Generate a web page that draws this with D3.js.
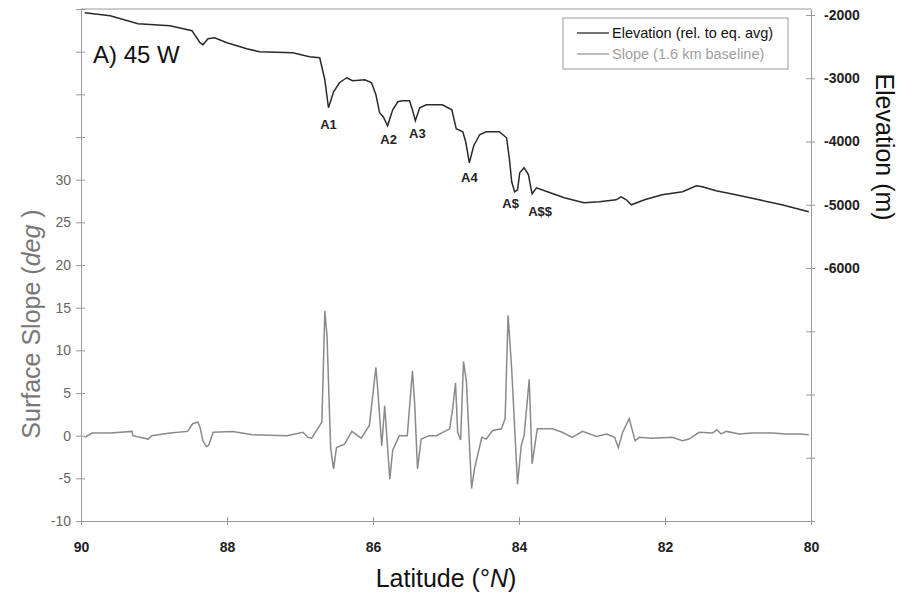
<!DOCTYPE html>
<html>
  <head>
    <meta charset="UTF-8">
    <title>45 W profile</title>
    <style type="text/css">
      body { margin: 0; background-color: #fff; }
      svg { font-family: "Liberation Sans", Arial, sans-serif; }
      .axis path, .axis line { stroke: #9a9a9a; }
      .axis text { font-size: 14px; }
      .left text { fill: #666; }
      .right text, .bottom text { fill: #222; font-weight: bold; }
      .dipLabel { font-size: 13px; font-weight: bold; fill: #222; text-anchor: middle; }
    </style>
    <script src="https://cdn.jsdelivr.net/npm/d3@7"></script>
  </head>
  <body>
    <div id="chart"></div>
    <script type="text/javascript">
      var width = 910, height = 593;
      var plotLeft = 81, plotRight = 811, plotTop = 9, plotBottom = 521;

      // elevation profile (latitude deg N, metres)
      var elevLat = [89.95, 89.60, 89.22, 88.78, 88.48, 88.37, 88.33, 88.26, 88.17, 88.00, 87.73, 87.55, 87.10, 86.87, 86.73,
        86.66, 86.61, 86.54, 86.46, 86.36, 86.28, 86.11, 86.02, 85.96, 85.91, 85.86, 85.80, 85.73, 85.66, 85.60, 85.50,
        85.46, 85.42, 85.36, 85.27, 85.05, 84.92, 84.86, 84.77, 84.73, 84.68, 84.62, 84.54, 84.45, 84.27, 84.17, 84.13,
        84.10, 84.06, 84.02, 83.99, 83.93, 83.87, 83.84, 83.82, 83.76, 83.61, 83.38, 83.11, 82.90, 82.67, 82.60, 82.53,
        82.46, 82.28, 82.04, 81.76, 81.57, 81.49, 81.30, 81.03, 80.71, 80.40, 80.03];
      var elevVal = [-1963, -2011, -2137, -2169, -2248, -2438, -2470, -2375, -2359, -2438, -2533, -2581, -2597, -2660, -2676,
        -3023, -3466, -3213, -3071, -2992, -3039, -3023, -3071, -3261, -3545, -3608, -3751, -3498, -3371, -3356, -3356,
        -3498, -3672, -3466, -3419, -3419, -3498, -3799, -3846, -4004, -4336, -4067, -3893, -3846, -3846, -3941, -4289,
        -4637, -4795, -4763, -4495, -4416, -4526, -4716, -4827, -4732, -4795, -4890, -4969, -4953, -4922, -4874, -4922,
        -5001, -4922, -4843, -4795, -4700, -4716, -4779, -4843, -4922, -5001, -5112];

      // surface slope (latitude deg N, degrees)
      var slopeLat = [89.95, 89.85, 89.60, 89.30, 89.29, 89.08, 89.03, 88.78, 88.54, 88.47, 88.40, 88.37, 88.33, 88.28, 88.25,
        88.19, 87.92, 87.65, 87.18, 86.96, 86.89, 86.84, 86.76, 86.70, 86.66, 86.63, 86.58, 86.54, 86.50, 86.39, 86.29,
        86.21, 86.16, 86.05, 85.96, 85.94, 85.88, 85.84, 85.77, 85.73, 85.64, 85.53, 85.46, 85.43, 85.39, 85.34, 85.23,
        85.13, 84.95, 84.91, 84.87, 84.84, 84.80, 84.76, 84.72, 84.65, 84.61, 84.51, 84.45, 84.36, 84.24, 84.19, 84.15,
        84.10, 84.02, 83.97, 83.93, 83.86, 83.82, 83.75, 83.54, 83.41, 83.27, 83.13, 82.94, 82.80, 82.69, 82.64, 82.58,
        82.49, 82.41, 82.35, 82.18, 81.90, 81.76, 81.67, 81.53, 81.35, 81.29, 81.23, 81.16, 80.98, 80.81, 80.53, 80.34,
        80.16, 80.03];
      var slopeVal = [-0.2, 0.3, 0.3, 0.5, 0.0, -0.4, 0.0, 0.3, 0.5, 1.4, 1.6, 1.0, -0.6, -1.3, -1.1,
        0.4, 0.5, 0.1, 0.0, 0.4, -0.2, -0.3, 0.8, 1.6, 14.6, 11.7, -1.5, -3.9, -1.4, -1.0, 0.5,
        0.0, -0.3, 1.2, 8.0, 6.0, -1.2, 3.5, -5.1, -1.7, 0.0, 0.0, 7.6, 3.9, -3.9, -0.4, 0.0,
        0.0, 0.8, 3.1, 6.2, 0.4, -0.5, 8.7, 6.3, -6.2, -3.9, -0.2, -0.4, 0.6, 0.8, 2.0, 14.1,
        7.8, -5.7, -1.2, 0.0, 6.6, -3.3, 0.8, 0.8, 0.4, -0.2, 0.5, -0.1, 0.2, -0.2, -1.4, 0.4,
        2.0, -0.6, -0.2, -0.3, -0.2, -0.6, -0.4, 0.4, 0.3, 0.7, 0.2, 0.5, 0.2, 0.3, 0.3, 0.2,
        0.2, 0.1];

      // labelled depressions
      var dipNames = ["A1", "A2", "A3", "A4", "A$", "A$$"];
      var dipLat = [86.61, 85.80, 85.42, 84.68, 84.06, 83.82];
      var dipElev = [-3466, -3751, -3672, -4336, -4795, -4827];

      var latTicks = [90, 88, 86, 84, 82, 80];
      var slopeTicks = [-10, -5, 0, 5, 10, 15, 20, 25, 30, 35, 40, 45, 50];
      var elevTicks = [-2000, -3000, -4000, -5000, -6000, -7000, -8000, -9000, -10000];
      var legendNames = ["Elevation (rel. to eq. avg)", "Slope (1.6 km baseline)"];

      var svg = d3.select("#chart").append("svg")
        .attr("width", width).attr("height", height);

      var xScale = d3.scaleLinear().domain([90, 80]).range([plotLeft, plotRight]);
      var ySlope = d3.scaleLinear().domain([-10, 50]).range([plotBottom, plotTop]);
      var yElev = d3.scaleLinear().domain([-10000, -1905]).range([plotBottom, plotTop]);

      // frame top line
      svg.append("line").attr("x1", plotLeft).attr("x2", plotRight).attr("y1", plotTop).attr("y2", plotTop)
        .attr("stroke", "#9a9a9a");

      var xAxis = d3.axisBottom(xScale).tickValues(latTicks).tickSize(0).tickPadding(21).tickFormat(d3.format("d"));
      var lAxis = d3.axisLeft(ySlope).tickValues(slopeTicks).tickSize(0).tickPadding(10)
        .tickFormat(function(d) { return d <= 30 ? d : ""; });
      var rAxis = d3.axisRight(yElev).tickValues(elevTicks).tickSize(0).tickPadding(13)
        .tickFormat(function(d) { return d >= -6000 ? d : ""; });

      var xg = svg.append("g").attr("class", "axis bottom").attr("transform", "translate(0," + plotBottom + ")").call(xAxis);
      var lg = svg.append("g").attr("class", "axis left").attr("transform", "translate(" + plotLeft + ",0)").call(lAxis);
      var rg = svg.append("g").attr("class", "axis right").attr("transform", "translate(" + plotRight + ",0)").call(rAxis);
      svg.selectAll(".axis path.domain").attr("stroke", "#9a9a9a");

      // ticks crossing the axis line
      xg.selectAll(".tick line").attr("y1", -4).attr("y2", 4);
      lg.selectAll(".tick line").attr("x1", -5).attr("x2", 4);
      rg.selectAll(".tick line").attr("x1", -5).attr("x2", 4);

      // curves
      var slopeLine = d3.line()
        .x(function(d, i) { return xScale(slopeLat[i]); })
        .y(function(d) { return ySlope(d); });
      svg.append("path").datum(slopeVal).attr("d", slopeLine)
        .attr("fill", "none").attr("stroke", "#8a8a8a").attr("stroke-width", 1.5);

      var elevLine = d3.line()
        .x(function(d, i) { return xScale(elevLat[i]); })
        .y(function(d) { return yElev(d); });
      svg.append("path").datum(elevVal).attr("d", elevLine)
        .attr("fill", "none").attr("stroke", "#2a2a2a").attr("stroke-width", 1.5);

      // dip labels
      var dipDy = [21, 18, 17, 19, 16, 22];
      var dipDx = [0, 1, 2, 0, -4, 8];
      svg.selectAll(".dipLabel").data(dipNames).enter().append("text")
        .attr("class", "dipLabel")
        .attr("x", function(d, i) { return xScale(dipLat[i]) + dipDx[i]; })
        .attr("y", function(d, i) { return yElev(dipElev[i]) + dipDy[i]; })
        .text(function(d) { return d; });

      // panel label
      svg.append("text").attr("x", 93).attr("y", 63).attr("font-size", "24px").attr("fill", "#111")
        .text("A) 45 W");

      // legend
      svg.append("rect").attr("x", 563).attr("y", 18).attr("width", 225).attr("height", 51)
        .attr("fill", "#fff").attr("stroke", "#999");
      var legColors = ["#2a2a2a", "#999"];
      legendNames.forEach(function(name, i) {
        var yy = 33 + i * 21;
        svg.append("line").attr("x1", 577).attr("x2", 609).attr("y1", yy).attr("y2", yy)
          .attr("stroke", legColors[i]).attr("stroke-width", 1.3);
        svg.append("text").attr("x", 612).attr("y", yy + 5).attr("font-size", "14.5px")
          .attr("fill", i == 0 ? "#111" : "#a0a0a0").text(name);
      });

      // axis titles
      var lt = svg.append("text").attr("transform", "translate(40,324) rotate(-90)")
        .attr("text-anchor", "middle").attr("font-size", "25px").attr("fill", "#777");
      lt.append("tspan").text("Surface Slope (");
      lt.append("tspan").attr("font-style", "italic").text("deg");
      lt.append("tspan").text(" )");

      svg.append("text").attr("transform", "translate(876,147) rotate(90)")
        .attr("text-anchor", "middle").attr("font-size", "25px").attr("fill", "#111")
        .text("Elevation (m)");

      var bt = svg.append("text").attr("x", 446).attr("y", 587)
        .attr("text-anchor", "middle").attr("font-size", "25px").attr("fill", "#111");
      bt.append("tspan").text("Latitude (°");
      bt.append("tspan").attr("font-style", "italic").text("N");
      bt.append("tspan").text(")");
    </script>
  </body>
</html>
